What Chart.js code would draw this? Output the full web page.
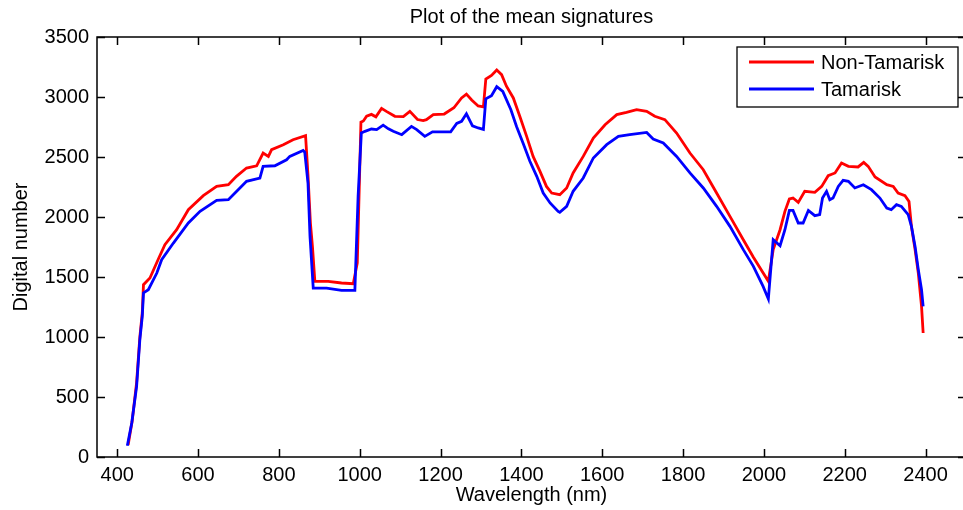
<!DOCTYPE html>
<html>
<head>
<meta charset="utf-8">
<title>Plot of the mean signatures</title>
<script src="https://cdn.jsdelivr.net/npm/chart.js@4.4.1/dist/chart.umd.min.js"></script>
<style>
  html, body { margin: 0; padding: 0; background: #fff; overflow: hidden; width: 963px; height: 510px; }
  canvas { display: block; }
</style>
</head>
<body>
<!-- le cadre droit de l'axe tombe juste au-delà de la fenêtre -->
<canvas id="signatureChart" width="967" height="510"></canvas>
<script>
// Signature moyenne Non-Tamarisk : longueur d'onde (nm) et digital number
const nonTamariskWavelength = [
    427, 437, 448, 456, 462, 465, 481, 501, 518, 547, 576, 613, 646, 675, 695, 720, 745, 761, 774, 782,
    811, 835, 866, 872, 878, 883, 889, 922, 955, 984, 994, 1000, 1003, 1009, 1017, 1029, 1040, 1054, 1066, 1087,
    1108, 1124, 1143, 1157, 1165, 1182, 1209, 1233, 1252, 1264, 1277, 1293, 1306, 1312, 1326, 1339, 1351, 1363, 1380, 1396,
    1413, 1429, 1446, 1462, 1475, 1495, 1512, 1528, 1553, 1578, 1607, 1636, 1660, 1685, 1710, 1730, 1755, 1784, 1817, 1850,
    1883, 1916, 1949, 1974, 2011, 2023, 2040, 2052, 2063, 2072, 2085, 2101, 2126, 2143, 2159, 2176, 2192, 2209, 2233, 2247,
    2258, 2275, 2304, 2320, 2332, 2349, 2359, 2365, 2374, 2382, 2390, 2394
];
const nonTamariskValue = [
    100, 300, 620, 1000, 1200, 1436, 1492, 1644, 1769, 1894, 2061, 2178, 2255, 2269, 2339, 2408, 2427, 2533, 2505, 2561,
    2602, 2644, 2678, 2350, 1950, 1755, 1464, 1464, 1450, 1444, 1617, 2394, 2790, 2800, 2840, 2855, 2835, 2905, 2880, 2839,
    2836, 2880, 2812, 2803, 2811, 2853, 2858, 2910, 2992, 3024, 2975, 2925, 2917, 3150, 3180, 3225, 3186, 3090, 2992, 2839,
    2672, 2505, 2380, 2255, 2200, 2186, 2242, 2367, 2505, 2658, 2769, 2853, 2872, 2894, 2880, 2839, 2811, 2700, 2533, 2394,
    2200, 2005, 1811, 1665, 1464, 1728, 1894, 2047, 2150, 2158, 2122, 2214, 2205, 2255, 2344, 2367, 2450, 2422, 2417, 2455,
    2422, 2333, 2269, 2255, 2200, 2178, 2130, 1922, 1728, 1533, 1255, 1033
];

// Signature moyenne Tamarisk
const tamariskWavelength = [
    425, 436, 448, 456, 462, 465, 477, 498, 510, 539, 576, 605, 646, 675, 695, 720, 753, 761, 790, 819,
    827, 860, 864, 872, 877, 885, 918, 955, 988, 996, 1004, 1013, 1029, 1042, 1058, 1071, 1083, 1104, 1128, 1141,
    1161, 1180, 1225, 1240, 1252, 1264, 1279, 1293, 1306, 1312, 1326, 1339, 1354, 1374, 1388, 1404, 1421, 1438, 1454, 1471,
    1491, 1495, 1512, 1528, 1553, 1578, 1611, 1640, 1668, 1710, 1726, 1751, 1784, 1817, 1850, 1883, 1916, 1949, 1974, 1998,
    2011, 2023, 2040, 2052, 2063, 2072, 2085, 2097, 2110, 2126, 2138, 2145, 2155, 2163, 2171, 2184, 2196, 2209, 2225, 2246,
    2266, 2287, 2304, 2315, 2328, 2340, 2357, 2365, 2374, 2382, 2390, 2394
];
const tamariskValue = [
    94, 283, 588, 977, 1172, 1367, 1394, 1533, 1644, 1783, 1950, 2047, 2138, 2144, 2213, 2297, 2325, 2422, 2427, 2477,
    2505, 2555, 2540, 2283, 1838, 1408, 1408, 1389, 1389, 2172, 2700, 2714, 2733, 2728, 2765, 2735, 2714, 2686, 2755, 2728,
    2672, 2710, 2710, 2780, 2797, 2860, 2760, 2742, 2730, 2985, 3011, 3086, 3047, 2894, 2755, 2617, 2464, 2339, 2200, 2117,
    2047, 2039, 2089, 2214, 2325, 2492, 2603, 2672, 2686, 2705, 2650, 2617, 2505, 2367, 2242, 2089, 1922, 1728, 1589, 1422,
    1317, 1811, 1761, 1894, 2055, 2055, 1950, 1950, 2055, 2011, 2020, 2158, 2214, 2144, 2158, 2255, 2305, 2297, 2242, 2269,
    2228, 2158, 2075, 2061, 2103, 2089, 2019, 1922, 1755, 1561, 1394, 1255
];

const seriesLabels = ['Non-Tamarisk', 'Tamarisk'];
const seriesColors = ['#ff0000', '#0000ff'];
const xTickValues = [400, 600, 800, 1000, 1200, 1400, 1600, 1800, 2000, 2200, 2400];
const yTickValues = [0, 500, 1000, 1500, 2000, 2500, 3000, 3500];

const FONT = { family: '"Liberation Sans", Arial, Helvetica, sans-serif', size: 20 };
const INK = '#000';
const TICK_LEN = 8;

function toPoints(xs, ys) {
    return xs.map((x, i) => ({ x: x, y: ys[i] }));
}

// Cadre complet + graduations vers l'intérieur sur les quatre côtés
const boxAxes = {
    id: 'boxAxes',
    afterDatasetsDraw(chart) {
        const { ctx, chartArea: a, scales } = chart;
        ctx.save();
        ctx.strokeStyle = INK;
        ctx.lineWidth = 1.5;
        ctx.strokeRect(a.left, a.top, a.right - a.left, a.bottom - a.top);
        ctx.beginPath();
        xTickValues.forEach(v => {
            const px = Math.round(scales.x.getPixelForValue(v)) + 0.5;
            ctx.moveTo(px, a.bottom); ctx.lineTo(px, a.bottom - TICK_LEN);
            ctx.moveTo(px, a.top); ctx.lineTo(px, a.top + TICK_LEN);
        });
        yTickValues.forEach(v => {
            const py = Math.round(scales.y.getPixelForValue(v)) + 0.5;
            ctx.moveTo(a.left, py); ctx.lineTo(a.left + TICK_LEN, py);
            ctx.moveTo(a.right, py); ctx.lineTo(a.right - TICK_LEN, py);
        });
        ctx.stroke();
        ctx.restore();
    },
    // légende encadrée en haut à droite
    afterDraw(chart) {
        const { ctx, chartArea: a } = chart;
        const w = 221, h = 60;
        const left = a.right - 8 - w, top = a.top + 10;
        ctx.save();
        ctx.fillStyle = '#fff';
        ctx.fillRect(left, top, w, h);
        ctx.strokeStyle = INK;
        ctx.lineWidth = 1.3;
        ctx.strokeRect(left, top, w, h);
        ctx.font = FONT.size + 'px ' + FONT.family;
        ctx.textBaseline = 'middle';
        chart.data.datasets.forEach((ds, i) => {
            const y = top + 15 + i * 27;
            ctx.strokeStyle = ds.borderColor;
            ctx.lineWidth = ds.borderWidth;
            ctx.beginPath();
            ctx.moveTo(left + 12, y);
            ctx.lineTo(left + 77, y);
            ctx.stroke();
            ctx.fillStyle = INK;
            ctx.fillText(ds.label, left + 84, y + 1);
        });
        ctx.restore();
    }
};

function renderChart() {
    const ctx = document.getElementById('signatureChart').getContext('2d');
    new Chart(ctx, {
        type: 'line',
        data: {
            datasets: [
                {
                    label: seriesLabels[0],
                    data: toPoints(nonTamariskWavelength, nonTamariskValue),
                    borderColor: seriesColors[0],
                    borderWidth: 2.8,
                    order: 1
                },
                {
                    label: seriesLabels[1],
                    data: toPoints(tamariskWavelength, tamariskValue),
                    borderColor: seriesColors[1],
                    borderWidth: 2.8,
                    order: 0
                }
            ]
        },
        options: {
            responsive: false,
            animation: false,
            devicePixelRatio: 1,
            layout: { padding: { top: 0, right: 1, bottom: 0, left: 0 } },
            elements: {
                point: { radius: 0 },
                line: { tension: 0, fill: false }
            },
            plugins: {
                legend: { display: false },
                tooltip: { enabled: false },
                title: {
                    display: true,
                    text: 'Plot of the mean signatures',
                    fullSize: false,
                    color: INK,
                    font: { family: FONT.family, size: FONT.size, weight: 'normal' },
                    padding: { top: 5, bottom: 8 }
                }
            },
            scales: {
                x: {
                    type: 'linear',
                    min: 350,
                    max: 2500,
                    afterBuildTicks: s => { s.ticks = xTickValues.map(v => ({ value: v })); },
                    afterFit: s => { s.height = 53; },
                    grid: { display: false, drawTicks: false },
                    border: { display: false },
                    ticks: {
                        color: INK, font: FONT, padding: 6, maxRotation: 0, autoSkip: false,
                        callback: v => String(v)
                    },
                    title: {
                        display: true,
                        text: 'Wavelength (nm)',
                        color: INK,
                        font: FONT,
                        padding: { top: 0, bottom: 3 }
                    }
                },
                y: {
                    min: 0,
                    max: 3500,
                    afterBuildTicks: s => { s.ticks = yTickValues.map(v => ({ value: v })); },
                    afterFit: s => { s.width = 97; },
                    grid: { display: false, drawTicks: false },
                    border: { display: false },
                    ticks: { color: INK, font: FONT, padding: 8, callback: v => String(v) },
                    title: {
                        display: true,
                        text: 'Digital number',
                        color: INK,
                        font: FONT,
                        padding: { top: 9, bottom: 0 }
                    }
                }
            }
        },
        plugins: [boxAxes]
    });
}

window.onload = renderChart;
</script>
</body>
</html>
